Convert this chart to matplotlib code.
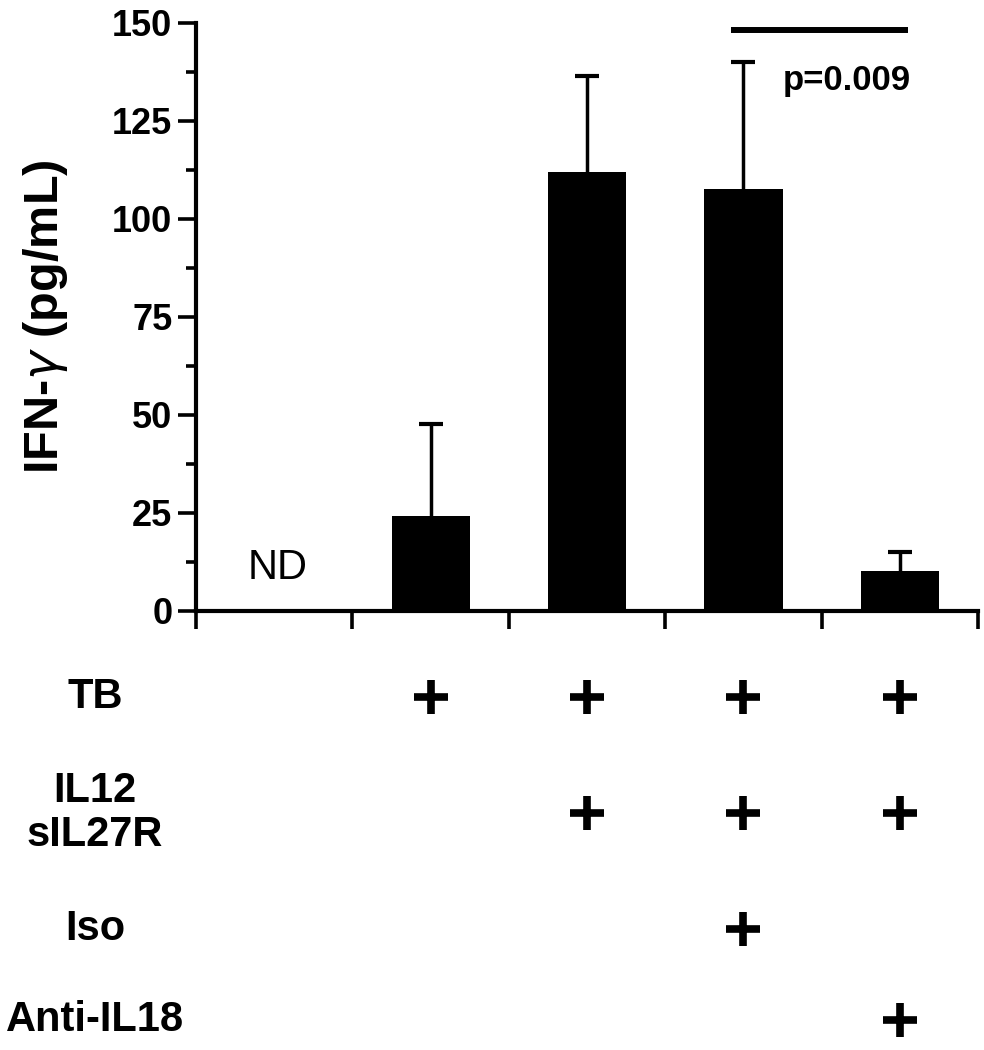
import numpy as np
import matplotlib
matplotlib.use("Agg")
import matplotlib.pyplot as plt
import matplotlib.transforms as mtransforms
from matplotlib.ticker import MultipleLocator

plt.rcParams['font.family'] = ['Liberation Sans', 'DejaVu Sans']
plt.rcParams['mathtext.fontset'] = 'dejavusans'

# data
groups = ['Media', 'TB', 'TB+IL12/sIL27R', 'TB+IL12/sIL27R+Iso', 'TB+IL12/sIL27R+Anti-IL18']
means = [0.0, 24.3, 111.9, 107.6, 10.2]
upper = [0.0, 47.8, 136.5, 140.0, 15.1]
detected = [False, True, True, True, True]

row_labels = ['TB', 'IL12\nsIL27R', 'Iso', 'Anti-IL18']
conditions = [
    [0, 1, 1, 1, 1],
    [0, 0, 1, 1, 1],
    [0, 0, 0, 1, 0],
    [0, 0, 0, 0, 1],
]
p_text = 'p=0.009'

W, H = 984, 1050
fig = plt.figure(figsize=(W / 100, H / 100), dpi=100)

# main bar axes
left, right, top, bottom = 196, 978, 23, 611
ax = fig.add_axes([left / W, 1 - bottom / H, (right - left) / W, (bottom - top) / H])

x = np.arange(len(groups))
m = np.array(means)
err = np.array(upper) - m
mask = np.array(detected)

ax.bar(x[mask], m[mask], width=0.5, color='black', zorder=3)
# upper-only error bars, drop the cap sitting on the bar top
eb = ax.errorbar(x[mask], m[mask], yerr=[np.zeros(mask.sum()), err[mask]],
                 fmt='none', ecolor='black', elinewidth=2.5, capsize=8.6,
                 capthick=3, zorder=2)
eb[1][0].set_visible(False)

ax.text(0.02, 11, 'ND', ha='center', va='center', fontsize=30)

# significance bar
ax.plot([2.92, 4.05], [148.2, 148.2], color='black', lw=4.3, clip_on=False,
        solid_capstyle='butt')
ax.text(3.66, 135.4, p_text, ha='center', va='center', fontsize=25, fontweight='bold')

ax.set_xlim(-0.5, len(groups) - 0.5)
ax.set_ylim(0, 150)
ax.set_xticks(np.arange(-0.5, len(groups), 1))
ax.set_xticklabels([])
ax.yaxis.set_major_locator(MultipleLocator(25))
ax.yaxis.set_minor_locator(MultipleLocator(12.5))
ax.tick_params(axis='both', which='major', length=13, width=2.6, direction='out',
               labelsize=26, pad=4)
ax.tick_params(axis='y', which='minor', length=7, width=2.6)
for lab in ax.get_yticklabels():
    lab.set_fontweight('bold')
for s in ['top', 'right']:
    ax.spines[s].set_visible(False)
for s in ['left', 'bottom']:
    ax.spines[s].set_linewidth(3)

ax.set_ylabel('IFN-$\\gamma$ (pg/mL)', fontsize=35, fontweight='bold', labelpad=30)

# treatment table below the axis
ax_t = fig.add_axes([left / W, 0, (right - left) / W, 1 - 640 / H])
ax_t.set_xlim(ax.get_xlim())
ax_t.set_ylim(H, 640)
ax_t.axis('off')

row_y = [697, 813, 929, 1020]
trans = mtransforms.blended_transform_factory(fig.transFigure, ax_t.transData)
for lab, yy, cond in zip(row_labels, row_y, conditions):
    fig.text(95 / W, yy, lab, transform=trans, ha='center', va='center',
             fontsize=30, fontweight='bold', linespacing=1.1)
    xs = [xi for xi, c in zip(x, cond) if c]
    ax_t.plot(xs, [yy] * len(xs), '+', color='black', ms=24, mew=5.5)

fig.savefig('out.png', dpi=100)
